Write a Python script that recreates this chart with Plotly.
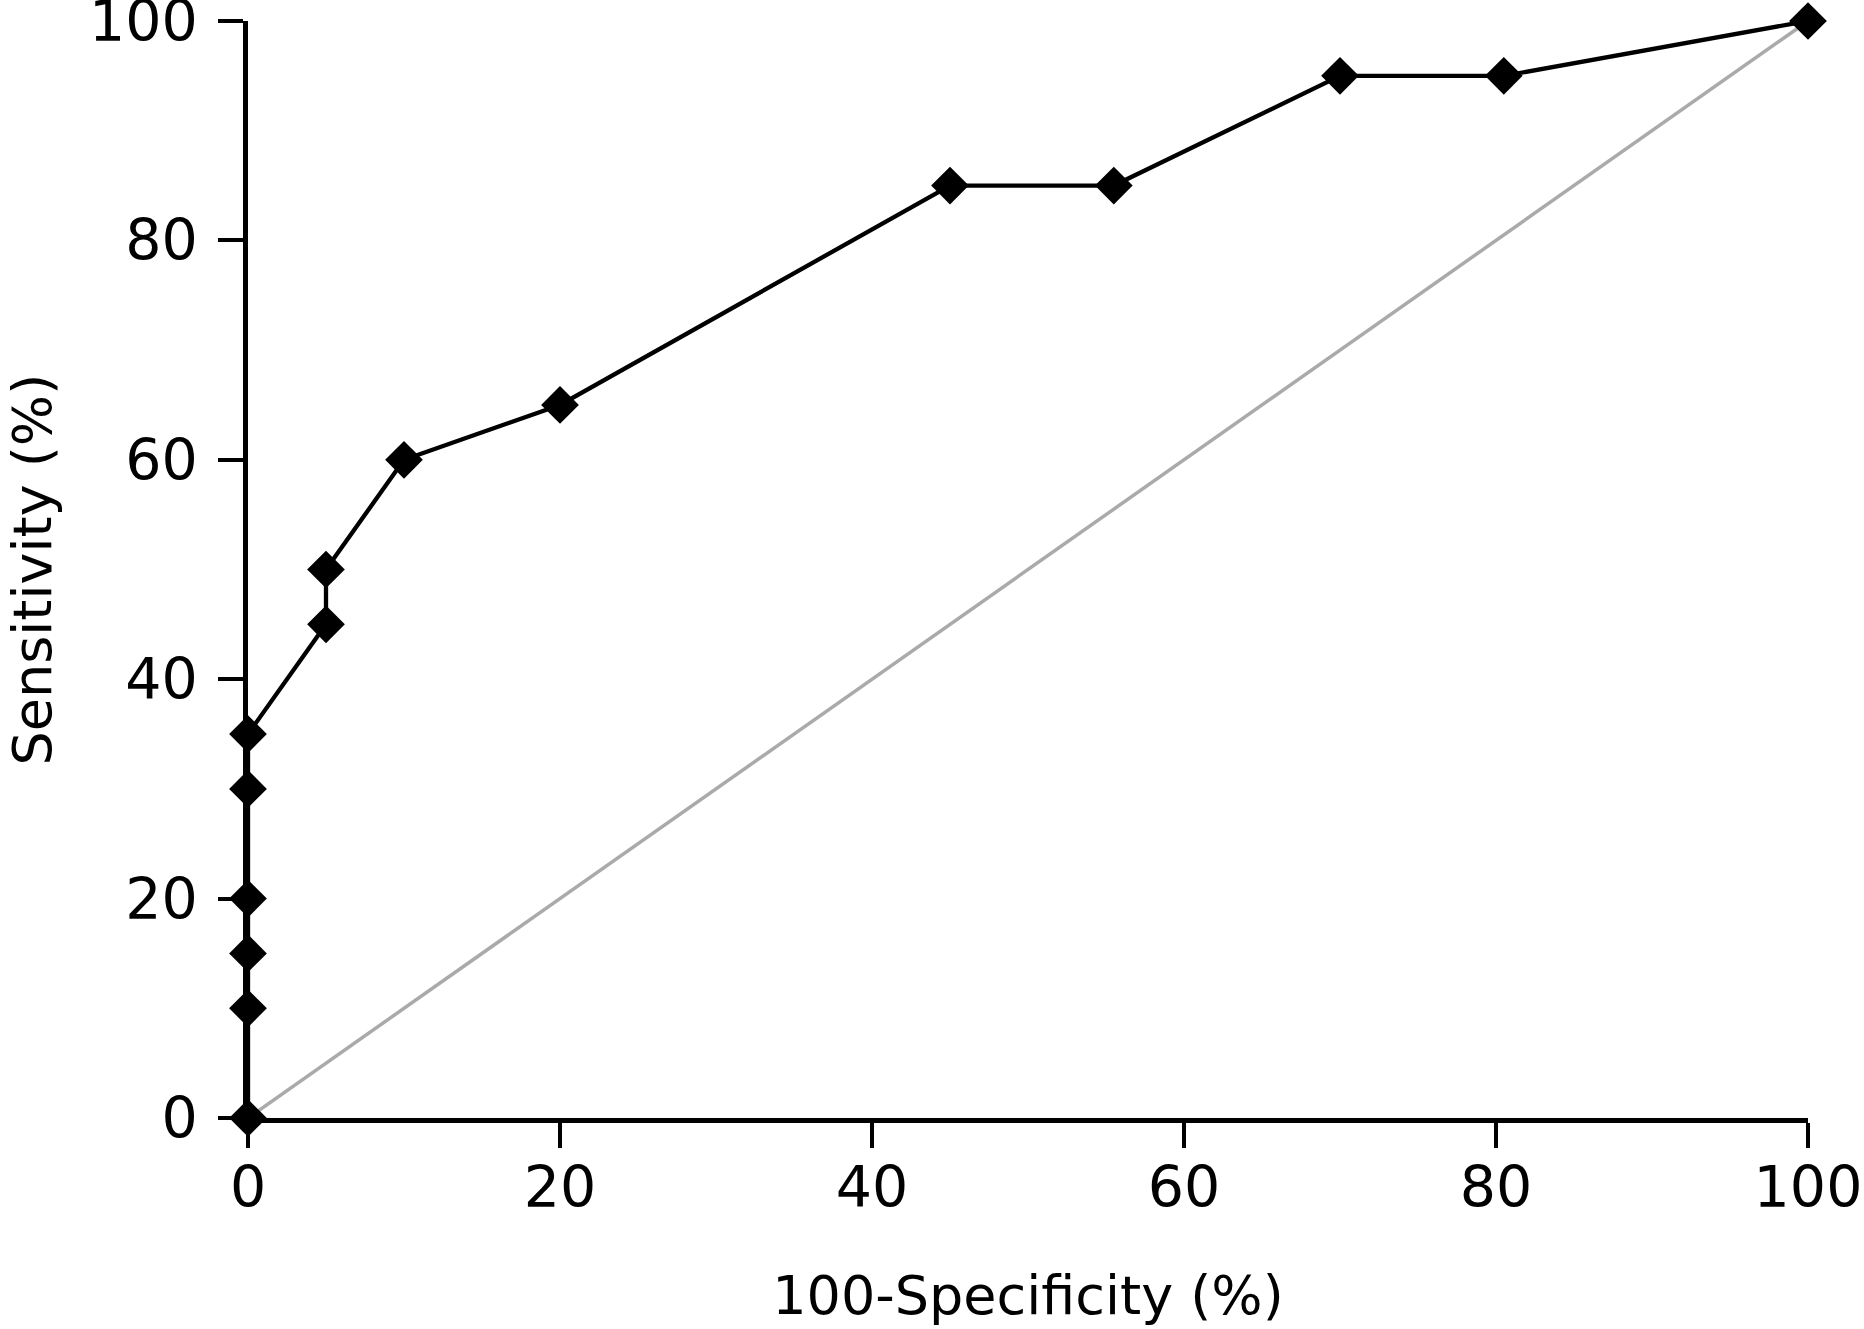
import plotly.graph_objects as go

fpr = [0, 0, 0, 0, 0, 0, 5, 5, 10, 20, 45, 55.5, 70, 80.5, 100]
sens = [0, 10, 15, 20, 30, 35, 45, 50, 60, 65, 85, 85, 95, 95, 100]
ref_x = [0, 100]
ref_y = [0, 100]
tick_vals = [0, 20, 40, 60, 80, 100]
x_title = "100-Specificity (%)"
y_title = "Sensitivity (%)"

fig = go.Figure()
fig.add_trace(go.Scatter(x=ref_x, y=ref_y, mode="lines",
                         line=dict(color="#aaaaaa", width=3.5),
                         cliponaxis=False, showlegend=False))
fig.add_trace(go.Scatter(x=fpr, y=sens, mode="lines+markers",
                         line=dict(color="black", width=4.3),
                         marker=dict(symbol="diamond", size=29, color="black"),
                         cliponaxis=False, showlegend=False))

font_family = "DejaVu Sans"
axis_common = dict(range=[0, 100], tickvals=tick_vals, showline=True,
                   linecolor="black", linewidth=4.5, ticks="outside",
                   ticklen=25, tickwidth=4, tickcolor="black",
                   showgrid=False, zeroline=False,
                   ticklabeloverflow="allow",
                   tickfont=dict(family=font_family, size=57, color="black"))

fig.update_xaxes(**axis_common, ticklabelstandoff=-9,
                 title=dict(text=x_title, standoff=59,
                            font=dict(family=font_family, size=54, color="black")))
fig.update_yaxes(**axis_common, ticklabelstandoff=9)

fig.add_annotation(text=y_title, textangle=-90, xref="paper", yref="paper",
                   x=0, y=0.5, xanchor="center", yanchor="middle",
                   xshift=-216, showarrow=False,
                   font=dict(family=font_family, size=54, color="black"))

fig.update_layout(width=1864, height=1329,
                  margin=dict(l=248.3, r=55.5, t=21, b=210.5, autoexpand=False),
                  plot_bgcolor="white", paper_bgcolor="white")

fig.write_html("out.html", config={"displayModeBar": False},
               post_script="document.body.style.margin='0';")
